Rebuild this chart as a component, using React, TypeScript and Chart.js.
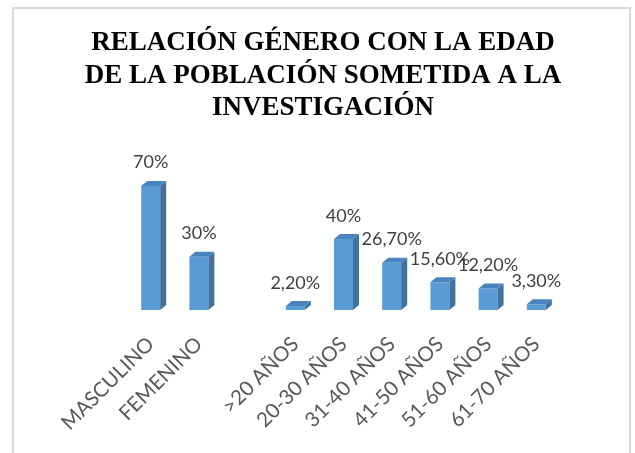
import React, { useEffect, useRef } from 'react';
import { Chart, registerables } from 'chart.js';

Chart.register(...registerables);

const categories = ['MASCULINO', 'FEMENINO', '', '>20 AÑOS', '20-30 AÑOS', '31-40 AÑOS', '41-50 AÑOS', '51-60 AÑOS', '61-70 AÑOS'];
const values: (number | null)[] = [70, 30, null, 2.2, 40, 26.7, 15.6, 12.2, 3.3];
const valueLabels = ['70%', '30%', '', '2,20%', '40%', '26,70%', '15,60%', '12,20%', '3,30%'];
const titleLines = ['RELACIÓN GÉNERO CON LA EDAD', 'DE LA POBLACIÓN SOMETIDA A LA', 'INVESTIGACIÓN'];

const FRONT = '#5b9bd5';
const SIDE = '#41719c';
const TOP = '#4a84bf';
const DEPTH_X = 6;
const DEPTH_Y = 5;

const framePlugin = {
  id: 'frame',
  beforeDraw(chart: any) {
    const { ctx, width, height } = chart;
    ctx.save();
    ctx.fillStyle = '#ffffff';
    ctx.fillRect(0, 0, width, height);
    ctx.strokeStyle = '#d9d9d9';
    ctx.lineWidth = 2;
    ctx.strokeRect(13, 8, 617, height + 20);
    ctx.restore();
  },
};

const bar3dPlugin = {
  id: 'bar3d',
  afterDatasetsDraw(chart: any) {
    const { ctx } = chart;
    const meta = chart.getDatasetMeta(0);
    ctx.save();
    meta.data.forEach((el: any, i: number) => {
      if (values[i] == null) return;
      const { x, y, base, width } = el.getProps(['x', 'y', 'base', 'width'], true);
      const l = x - width / 2;
      const r = x + width / 2;
      ctx.fillStyle = SIDE;
      ctx.beginPath();
      ctx.moveTo(r, y);
      ctx.lineTo(r + DEPTH_X, y - DEPTH_Y);
      ctx.lineTo(r + DEPTH_X, base - DEPTH_Y);
      ctx.lineTo(r, base);
      ctx.closePath();
      ctx.fill();
      ctx.fillStyle = TOP;
      ctx.beginPath();
      ctx.moveTo(l, y);
      ctx.lineTo(l + DEPTH_X, y - DEPTH_Y);
      ctx.lineTo(r + DEPTH_X, y - DEPTH_Y);
      ctx.lineTo(r, y);
      ctx.closePath();
      ctx.fill();
      ctx.fillStyle = '#404040';
      ctx.font = '18px Lato';
      ctx.textAlign = 'center';
      ctx.textBaseline = 'alphabetic';
      ctx.fillText(valueLabels[i], x, y - 24 + 6.5);
    });
    ctx.restore();
  },
};

export default function App() {
  const ref = useRef<HTMLCanvasElement | null>(null);

  useEffect(() => {
    if (!ref.current) return;
    const chart = new Chart(ref.current, {
      type: 'bar',
      data: {
        labels: categories,
        datasets: [
          {
            data: values as any,
            backgroundColor: FRONT,
            borderWidth: 0,
            barPercentage: 0.394,
            categoryPercentage: 1,
          },
        ],
      },
      options: {
        responsive: false,
        animation: false,
        devicePixelRatio: 1,
        layout: { padding: { left: 14, right: 3, top: 27, bottom: 0 } },
        plugins: {
          legend: { display: false },
          tooltip: { enabled: false },
          title: {
            display: true,
            text: titleLines,
            color: '#000000',
            font: { family: 'Liberation Serif', size: 27, weight: 'bold', lineHeight: 1.2 },
            padding: { top: 0, bottom: 44 },
          },
        },
        scales: {
          x: {
            grid: { display: false, drawTicks: false },
            border: { display: false },
            ticks: {
              autoSkip: false,
              minRotation: 45,
              maxRotation: 45,
              padding: 22,
              color: '#595959',
              font: { family: 'Lato', size: 20.5 },
            },
            afterFit: (s: any) => { s.height = 143; },
          },
          y: {
            min: 0,
            max: 80,
            display: true,
            grid: { display: false, drawTicks: false },
            border: { display: false },
            ticks: { display: false },
            afterFit: (s: any) => { s.width = 112.6; },
          },
          y2: {
            type: 'linear',
            position: 'right',
            display: true,
            grid: { display: false, drawTicks: false },
            border: { display: false },
            ticks: { display: false },
            afterFit: (s: any) => { s.width = 71.6; },
          },
        },
      },
      plugins: [framePlugin, bar3dPlugin],
    });
    return () => chart.destroy();
  }, []);

  return (
    <div style={{ position: 'fixed', left: 0, top: 0, width: 635, height: 453, overflow: 'hidden', background: '#fff' }}>
      <canvas ref={ref} width={635} height={453} style={{ display: 'block' }} />
    </div>
  );
}
